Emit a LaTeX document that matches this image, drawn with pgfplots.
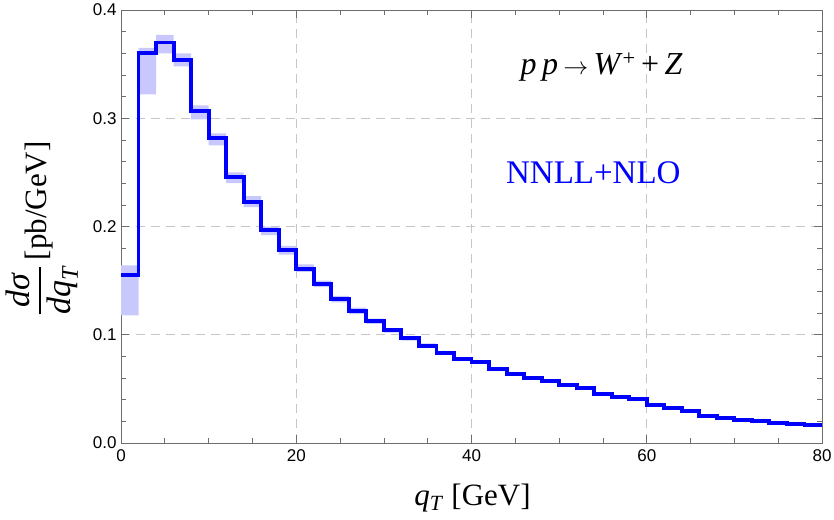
\documentclass[border=0pt]{standalone}
\usepackage{amsmath}
\usepackage{pgfplots}
\pgfplotsset{compat=1.18}
\usepgfplotslibrary{fillbetween}
\usetikzlibrary{calc}
\usepackage{pgfplotstable}
\usepackage{fontspec}
\setmainfont{Liberation Serif}
\newfontfamily\tickfont{Liberation Sans}
\definecolor{bandblue}{RGB}{200,200,252}
\definecolor{framegray}{RGB}{110,110,110}
\pgfplotstableread{
x y lo hi
0 0.155 0.118 0.164
2 0.360 0.322 0.365
4 0.370 0.360 0.377
6 0.354 0.348 0.360
8 0.307 0.299 0.312
10 0.282 0.275 0.286
12 0.246 0.240 0.250
14 0.223 0.218 0.228
16 0.197 0.192 0.200
18 0.178 0.174 0.182
20 0.161 0.158 0.165
22 0.147 0.144 0.150
24 0.133 0.130 0.136
26 0.122 0.119 0.125
28 0.113 0.110 0.115
30 0.104 0.102 0.106
32 0.0967 0.0945 0.0985
34 0.090 0.088 0.092
36 0.0834 0.0815 0.085
38 0.0776 0.076 0.079
40 0.0745 0.073 0.076
42 0.068 0.0665 0.0695
44 0.0635 0.062 0.065
46 0.0603 0.059 0.0615
48 0.0576 0.0563 0.0589
50 0.0536 0.0524 0.0548
52 0.0505 0.0493 0.0517
54 0.045 0.044 0.046
56 0.0428 0.0418 0.0438
58 0.0406 0.0396 0.0416
60 0.0351 0.0342 0.0360
62 0.0320 0.0312 0.0330
64 0.0299 0.0291 0.0309
66 0.0252 0.0245 0.0262
68 0.0228 0.0221 0.0238
70 0.021 0.0203 0.0220
72 0.020 0.0193 0.0210
74 0.0188 0.0181 0.0198
76 0.0176 0.0170 0.0186
78 0.0169 0.0163 0.0179
80 0.0169 0.0163 0.0179
}\qtdata
\begin{document}
\begin{tikzpicture}
\begin{axis}[
  scale only axis,
  width=701pt, height=433pt,
  xmin=0, xmax=80, ymin=0, ymax=0.4,
  xtick={0,20,40,60,80},
  ytick={0,0.1,0.2,0.3,0.4},
  minor x tick num=3,
  minor y tick num=4,
  yticklabels={0.0,0.1,0.2,0.3,0.4},
  tick align=inside,
  major tick length=8pt,
  minor tick length=5pt,
  axis line style={framegray, line width=0.8pt},
  every tick/.style={framegray, line width=0.7pt},
  grid=major,
  major grid style={gray!45, dash pattern=on 9pt off 6pt, line width=0.7pt},
  ticklabel style={font=\tickfont\fontsize{17}{19}\selectfont, text=black},
  /pgf/number format/assume math mode=true,
  xticklabel style={yshift=-3pt},
  yticklabel style={xshift=-1pt},
  clip=true,
]
\addplot[draw=none, const plot, name path=up] table[x=x, y=hi] {\qtdata};
\addplot[draw=none, const plot, name path=dn] table[x=x, y=lo] {\qtdata};
\addplot[bandblue, draw=none] fill between[of=up and dn];
\addplot[blue, line width=3.9pt, const plot, mark=none] table[x=x, y=y] {\qtdata};
\node[anchor=base, font=\fontsize{32}{35}\selectfont] at (axis cs:54.85,0.340) {\textit{p\,p}\,$\rightarrow$\,\textit{W}\textsuperscript{+}\,+\,\textit{Z}};
\node[anchor=center, text=blue, font=\fontsize{33}{36}\selectfont] at (axis cs:53.9,0.250) {NNLL+NLO};
\end{axis}
\node[anchor=base, font=\fontsize{31}{34}\selectfont] at ($(current axis.south)+(1pt,-62pt)$) {\textit{q}\textsubscript{\textit{T}} [GeV]};
\node[rotate=90, anchor=center, font=\fontsize{31}{34}\selectfont] at ($(current axis.west)+(-79pt,-2pt)$) {$\genfrac{}{}{2pt}{0}{\mbox{\fontsize{34}{36}\selectfont\itshape dσ}}{\mbox{\fontsize{34}{36}\selectfont\itshape dq\textsubscript{T}}}$\,[pb/GeV]};
\pgfresetboundingbox
\path ($(current axis.south west)+(-121pt,-76pt)$) rectangle ($(current axis.north east)+(12pt,10pt)$);
\end{tikzpicture}
\end{document}
